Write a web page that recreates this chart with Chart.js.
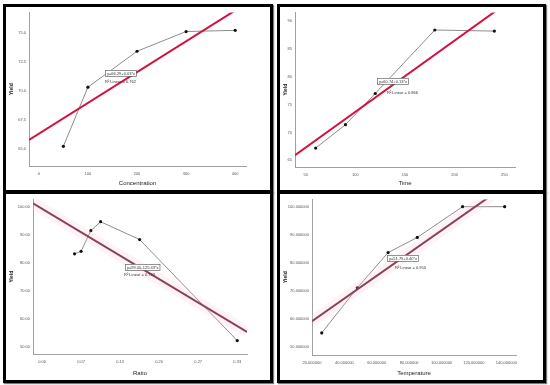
<!DOCTYPE html>
<html><head><meta charset="utf-8">
<script src="https://cdn.jsdelivr.net/npm/chart.js@4/dist/chart.umd.min.js"></script>
<style>
body{margin:0;background:#fff;width:550px;height:385px;position:relative;overflow:hidden;font-family:"Liberation Sans",Arial,sans-serif}
.p{position:absolute;border:3px solid #000;box-sizing:border-box;background:#fff;box-shadow:1px 1px 1px #777}
.p canvas{position:absolute;left:0;top:0}
</style></head><body>
<div class="p" style="left:3px;top:4px;width:270px;height:189px"><canvas id="c1" width="264" height="183"></canvas></div>
<div class="p" style="left:277px;top:4px;width:269px;height:189px"><canvas id="c2" width="263" height="183"></canvas></div>
<div class="p" style="left:3px;top:191px;width:270px;height:192px"><canvas id="c3" width="264" height="186"></canvas></div>
<div class="p" style="left:277px;top:191px;width:269px;height:192px"><canvas id="c4" width="263" height="186"></canvas></div>
<script>
// ---- data ----
const Y_TITLE = 'Yield';
const CONC = [50, 100, 200, 300, 400];
const YIELD_CONC = [65.2, 70.3, 73.4, 75.1, 75.2];
const TIME = [60, 90, 120, 180, 240];
const YIELD_TIME = [67.2, 71.4, 77.0, 88.4, 88.2];
const RATIO = [0.0556, 0.0667, 0.0833, 0.1, 0.1667, 0.3333];
const YIELD_RATIO = [83.3, 84.2, 91.6, 94.8, 88.4, 52.2];
const TEMP = [26, 48, 67, 85, 113, 139];
const YIELD_TEMP = [54.9, 71.0, 83.6, 89.0, 100, 100];

// fitted-line end points
const FIT_CONC_X = [-20, 422], FIT_CONC_Y = [65.75, 77.5];
const FIT_TIME_X = [39.2, 260.8], FIT_TIME_Y = [65.9, 94.3];
const FIT_RATIO_X = [-0.0154, 0.350], FIT_RATIO_Y = [101.4, 55.3];
const FIT_TEMP_X = [20, 146], FIT_TEMP_Y = [59.1, 110.2];

// ticks
const CONC_TICKS = [0, 100, 200, 300, 400], CONC_LABELS = ['0', '100', '200', '300', '400'];
const CONC_Y_TICKS = [65, 67.5, 70, 72.5, 75], CONC_Y_LABELS = ['65.0', '67.5', '70.0', '72.5', '75.0'];
const TIME_TICKS = [50, 100, 150, 200, 250], TIME_LABELS = ['50', '100', '150', '200', '250'];
const TIME_Y_TICKS = [65, 70, 75, 80, 85, 90], TIME_Y_LABELS = ['65', '70', '75', '80', '85', '90'];
const RATIO_TICKS = [0, 1/15, 2/15, 0.2, 4/15, 1/3], RATIO_LABELS = ['0.00', '0.07', '0.13', '0.20', '0.27', '0.33'];
const RATIO_Y_TICKS = [50, 60, 70, 80, 90, 100], RATIO_Y_LABELS = ['50.00', '60.00', '70.00', '80.00', '90.00', '100.00'];
const TEMP_TICKS = [20, 40, 60, 80, 100, 120, 140], TEMP_LABELS = ['20.000000', '40.000000', '60.000000', '80.000000', '100.000000', '120.000000', '140.000000'];
const TEMP_Y_TICKS = [50, 60, 70, 80, 90, 100], TEMP_Y_LABELS = ['50.000000', '60.000000', '70.000000', '80.000000', '90.000000', '100.000000'];

const EQ = ['y=66.29+0.03*x', 'y=60.74+0.13*x', 'y=99.05-125.43*x', 'y=51.79+0.40*x'];
const R2 = ['R\u00b2 Linear = 0.762', 'R\u00b2 Linear = 0.866', 'R\u00b2 Linear = 0.723', 'R\u00b2 Linear = 0.950'];

const pts = (xs, ys) => xs.map((x, i) => ({x, y: ys[i]}));

const annot = {
  id: 'annot',
  afterDatasetsDraw(chart, args, o) {
    const ctx = chart.ctx;
    ctx.save();
    ctx.font = '4px "Liberation Sans", Arial, sans-serif';
    ctx.textBaseline = 'middle';
    const w = ctx.measureText(o.eq).width + 3;
    ctx.fillStyle = '#fff';
    ctx.fillRect(o.bx, o.by, w, 6);
    ctx.strokeStyle = '#666'; ctx.lineWidth = 0.7;
    ctx.strokeRect(o.bx + 0.5, o.by + 0.5, w, 6);
    ctx.fillStyle = '#333';
    ctx.fillText(o.eq, o.bx + 2, o.by + 3.5);
    ctx.fillText(o.r2, o.rx, o.ry);
    ctx.restore();
  }
};

function make(id, c) {
  const ds = [];
  if (c.halo) ds.push({data: pts(c.fx, c.fy), showLine: true, borderColor: 'rgba(255,200,220,0.22)', borderWidth: 12, pointRadius: 0, clip: 0});
  ds.push({data: pts(c.fx, c.fy), showLine: true, borderColor: c.fitColor, borderWidth: 2, pointRadius: 0, clip: 0});
  ds.push({data: pts(c.x, c.y), showLine: true, borderColor: '#8c8c8c', borderWidth: 1, pointRadius: 1.6, pointBackgroundColor: '#111', pointBorderWidth: 0, clip: 0});
  new Chart(document.getElementById(id), {
    type: 'scatter',
    data: {datasets: ds},
    options: {
      responsive: false, animation: false, events: [],
      plugins: {legend: {display: false}, tooltip: {enabled: false}, annot: c.ann},
      layout: {padding: {top: c.pt, right: c.pr, left: 0, bottom: 0}},
      scales: {
        x: {
          type: 'linear', min: c.xmin, max: c.xmax,
          afterBuildTicks: s => { s.ticks = c.xt.map(v => ({value: v})); },
          afterFit: s => { s.height = c.xh; },
          grid: {display: false, drawTicks: false},
          border: {color: '#a0a0a0', width: 1},
          ticks: {font: {size: 4, family: 'Liberation Sans'}, color: '#555', padding: 5, maxRotation: 0, autoSkip: false,
                  callback: (v, i) => c.xl[i]},
          title: {display: true, text: c.xtitle, font: {size: 6, family: 'Liberation Sans'}, color: '#222', padding: {top: 0, bottom: 3}}
        },
        y: {
          type: 'linear', min: c.ymin, max: c.ymax,
          afterBuildTicks: s => { s.ticks = c.yt.map(v => ({value: v})); },
          afterFit: s => { s.width = c.yw; },
          grid: {display: false, drawTicks: false},
          border: {color: '#a0a0a0', width: 1},
          ticks: {font: {size: 4, family: 'Liberation Sans'}, color: '#555', padding: 3, autoSkip: false,
                  callback: (v, i) => c.yl[i]},
          title: {display: true, text: Y_TITLE, font: {size: 5, weight: 'bold', family: 'Liberation Sans'}, color: '#222', padding: {top: 3, bottom: 0}}
        }
      }
    },
    plugins: [annot]
  });
}

make('c1', {x: CONC, y: YIELD_CONC, fx: FIT_CONC_X, fy: FIT_CONC_Y, fitColor: '#d3113f',
  xmin: -20, xmax: 422, ymin: 63.5, ymax: 76.75, xt: CONC_TICKS, xl: CONC_LABELS, yt: CONC_Y_TICKS, yl: CONC_Y_LABELS,
  xtitle: 'Concentration', pt: 0, pr: 24, xh: 24, yw: 23,
  ann: {eq: EQ[0], r2: R2[0], bx: 99, by: 63, rx: 99, ry: 74.5}});
make('c2', {x: TIME, y: YIELD_TIME, fx: FIT_TIME_X, fy: FIT_TIME_Y, fitColor: '#d3113f',
  xmin: 39.2, xmax: 260.8, ymin: 63.8, ymax: 91.56, xt: TIME_TICKS, xl: TIME_LABELS, yt: TIME_Y_TICKS, yl: TIME_Y_LABELS,
  xtitle: 'Time', pt: 0, pr: 28, xh: 23, yw: 15,
  ann: {eq: EQ[1], r2: R2[1], bx: 97, by: 71, rx: 107, ry: 85.5}});
make('c3', {x: RATIO, y: YIELD_RATIO, fx: FIT_RATIO_X, fy: FIT_RATIO_Y, fitColor: '#6a1c2c', halo: true,
  xmin: -0.0154, xmax: 0.350, ymin: 47.4, ymax: 102.8, xt: RATIO_TICKS, xl: RATIO_LABELS, yt: RATIO_Y_TICKS, yl: RATIO_Y_LABELS,
  xtitle: 'Ratio', pt: 2, pr: 23, xh: 26, yw: 27,
  ann: {eq: EQ[2], r2: R2[2], bx: 119, by: 70, rx: 118, ry: 81}});
make('c4', {x: TEMP, y: YIELD_TEMP, fx: FIT_TEMP_X, fy: FIT_TEMP_Y, fitColor: '#6a1c2c', halo: true,
  xmin: 20, xmax: 146, ymin: 47.0, ymax: 102.6, xt: TEMP_TICKS, xl: TEMP_LABELS, yt: TEMP_Y_TICKS, yl: TEMP_Y_LABELS,
  xtitle: 'Temperature', pt: 2, pr: 27, xh: 25, yw: 32,
  ann: {eq: EQ[3], r2: R2[3], bx: 107, by: 61, rx: 115, ry: 73.5}});
</script>
</body></html>
